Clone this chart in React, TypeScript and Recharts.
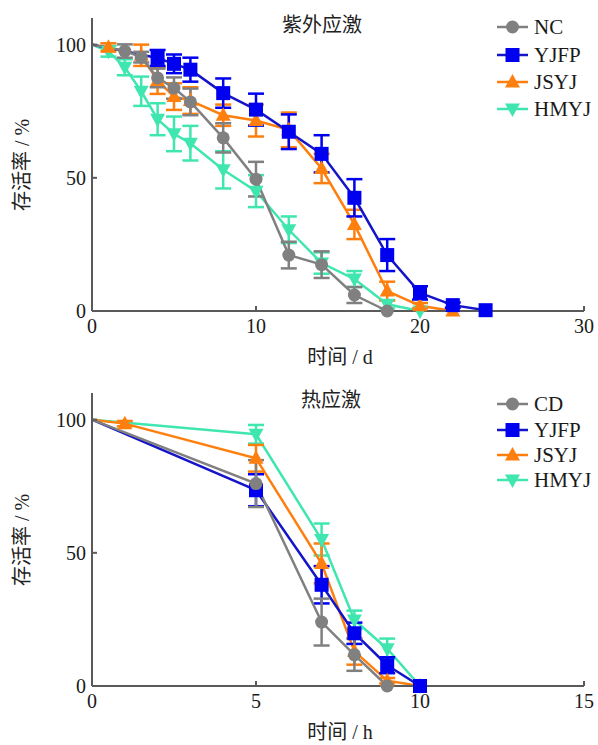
import React from 'react';
import { LineChart, Line, XAxis, YAxis, ErrorBar } from 'recharts';

// 紫外应激 (UV stress), x in days
const uvNCDays = [0, 2, 3, 4, 5, 6, 8, 10, 12, 14, 16, 18];
const uvNC = [100, 97.6, 95.3, 87.5, 83.7, 78.5, 65, 49.5, 21, 17.4, 6, 0];
const uvNCErr = [null, 2.5, 2, 3.5, 4, 5, 5.5, 6.5, 5, 5, 3, null];

const uvYJFPDays = [0, 4, 5, 6, 8, 10, 12, 14, 16, 18, 20, 22, 24];
const uvYJFP = [100, 95, 92.8, 90.6, 81.8, 75.6, 67.3, 59, 42.5, 21, 6.8, 2.2, 0.3];
const uvYJFPErr = [null, 3, 3.5, 4.5, 5.5, 6, 6.5, 7, 7, 6, 2.5, 1, null];

const uvJSYJDays = [0, 1, 3, 4, 5, 6, 8, 10, 12, 14, 16, 18, 20, 22];
const uvJSYJ = [100, 99, 96, 86.5, 80.5, 79, 73.5, 71.5, 68, 53.5, 32.5, 7.5, 2, 0];
const uvJSYJErr = [null, 1.5, 4, 5, 5, 5, 4, 6, 6.5, 5.5, 5.5, 3.5, 1, null];

const uvHMYJDays = [0, 1, 2, 3, 4, 5, 6, 8, 10, 12, 14, 16, 18, 20];
const uvHMYJ = [100, 97.5, 91.5, 82.5, 72, 66.5, 63, 53, 45, 30.5, 18, 12, 2.5, 0];
const uvHMYJErr = [null, 2, 3, 5.5, 6, 6.5, 6.5, 7, 6, 5, 4, 3, 1.5, null];

// 热应激 (heat stress), x in hours
const heatCDHours = [0, 5, 7, 8, 9];
const heatCD = [100, 76, 24, 11.7, 0];
const heatCDErr = [null, 8.8, 8.8, 6, null];

const heatYJFPHours = [0, 5, 7, 8, 9, 10];
const heatYJFP = [100, 73.5, 38, 19.8, 7.8, 0];
const heatYJFPErr = [null, 6, 7, 4, 3, null];

const heatJSYJHours = [0, 1, 5, 7, 8, 9, 10];
const heatJSYJ = [100, 98.5, 85.5, 46, 13, 2, 0];
const heatJSYJErr = [null, 1, 5, 7.5, 5, 1, null];

const heatHMYJHours = [0, 5, 7, 8, 9, 10];
const heatHMYJ = [100, 94.5, 55, 24.8, 14, 0];
const heatHMYJErr = [null, 3.5, 6, 3.5, 3.8, null];

const uvTicks = [0, 10, 20, 30];
const heatTicks = [0, 5, 10, 15];
const yTicks = [0, 50, 100];

const GRAY = '#808080';
const BLUE = '#0000f0';
const BLUE_LINE = '#1414c8';
const ORANGE = '#ff7f0e';
const TEAL = '#40e6b0';
const AXIS = '#5a5a5a';
const SERIF = "'Liberation Serif', 'Times New Roman', 'DejaVu Serif', 'Noto Sans CJK SC', serif";

type Shape = 'circle' | 'square' | 'up' | 'down';

const toRows = (xs: number[], ys: number[], errs: (number | null)[]) =>
  xs.map((x, i) => ({ x, y: ys[i], err: errs[i] }));

const Marker = ({ shape, cx, cy, color }: { shape: Shape; cx: number; cy: number; color: string }) => {
  if (shape === 'circle') return <circle cx={cx} cy={cy} r={6.5} fill={color} />;
  if (shape === 'square') return <rect x={cx - 7} y={cy - 7} width={14} height={14} fill={color} />;
  if (shape === 'up')
    return <polygon points={`${cx},${cy - 8} ${cx + 7.5},${cy + 5.5} ${cx - 7.5},${cy + 5.5}`} fill={color} />;
  return <polygon points={`${cx},${cy + 8} ${cx + 7.5},${cy - 5.5} ${cx - 7.5},${cy - 5.5}`} fill={color} />;
};

interface Series {
  name: string;
  rows: { x: number; y: number; err: number | null }[];
  color: string;
  lineColor: string;
  shape: Shape;
}

const uvSeries: Series[] = [
  { name: 'NC', rows: toRows(uvNCDays, uvNC, uvNCErr), color: GRAY, lineColor: GRAY, shape: 'circle' },
  { name: 'YJFP', rows: toRows(uvYJFPDays, uvYJFP, uvYJFPErr), color: BLUE, lineColor: BLUE_LINE, shape: 'square' },
  { name: 'JSYJ', rows: toRows(uvJSYJDays, uvJSYJ, uvJSYJErr), color: ORANGE, lineColor: ORANGE, shape: 'up' },
  { name: 'HMYJ', rows: toRows(uvHMYJDays, uvHMYJ, uvHMYJErr), color: TEAL, lineColor: TEAL, shape: 'down' },
];

const heatSeries: Series[] = [
  { name: 'CD', rows: toRows(heatCDHours, heatCD, heatCDErr), color: GRAY, lineColor: GRAY, shape: 'circle' },
  { name: 'YJFP', rows: toRows(heatYJFPHours, heatYJFP, heatYJFPErr), color: BLUE, lineColor: BLUE_LINE, shape: 'square' },
  { name: 'JSYJ', rows: toRows(heatJSYJHours, heatJSYJ, heatJSYJErr), color: ORANGE, lineColor: ORANGE, shape: 'up' },
  { name: 'HMYJ', rows: toRows(heatHMYJHours, heatHMYJ, heatHMYJErr), color: TEAL, lineColor: TEAL, shape: 'down' },
];

interface PanelProps {
  top: number;
  height: number;
  series: Series[];
  xMax: number;
  xTicks: number[];
  title: string;
  titleX: number;
  xLabel: string;
  legendY: number[];
}

const textStyle = { fontFamily: SERIF };

const Panel = ({ top, height, series, xMax, xTicks, title, titleX, xLabel, legendY }: PanelProps) => {
  // draw back-to-front so gray sits on top like the original
  const drawOrder = [...series].reverse();
  const tickStyle = { fontSize: 20, fill: '#1a1a1a', fontFamily: SERIF, style: textStyle };
  return (
    <div style={{ position: 'absolute', left: 0, top, width: 598, height, fontFamily: SERIF }}>
      <LineChart width={598} height={height} margin={{ top: 18, right: 14, left: 0, bottom: height - 18 - 293 - 30 }}>
        <XAxis
          type="number"
          dataKey="x"
          domain={[0, xMax]}
          ticks={xTicks}
          height={30}
          tickSize={-5}
          tickMargin={13}
          axisLine={{ stroke: AXIS, strokeWidth: 2 }}
          tickLine={{ stroke: AXIS, strokeWidth: 2 }}
          tick={tickStyle}
          allowDuplicatedCategory={false}
        />
        <YAxis
          type="number"
          domain={[0, 110]}
          ticks={yTicks}
          width={92}
          tickSize={-5}
          tickMargin={11}
          axisLine={{ stroke: AXIS, strokeWidth: 2 }}
          tickLine={{ stroke: AXIS, strokeWidth: 2 }}
          tick={tickStyle}
        />
        {drawOrder.map((s) => (
          <Line
            key={s.name}
            data={s.rows}
            dataKey="y"
            type="linear"
            stroke={s.lineColor}
            strokeWidth={2.5}
            isAnimationActive={false}
            dot={(p: any) =>
              p.index === 0 ? (
                <g key={`${s.name}-${p.index}`} />
              ) : (
                <Marker key={`${s.name}-${p.index}`} shape={s.shape} cx={p.cx} cy={p.cy} color={s.color} />
              )
            }
            activeDot={false}
          >
            <ErrorBar dataKey="err" direction="y" width={8} strokeWidth={2.5} stroke={s.color} />
          </Line>
        ))}
      </LineChart>
      <svg width={598} height={height} style={{ position: 'absolute', left: 0, top: 0, pointerEvents: 'none', ...textStyle }}>
        <text x={titleX} y={25} textAnchor="middle" dominantBaseline="central" fontSize={20} fill="#222" style={textStyle}>
          {title}
        </text>
        <text x={340} y={357} textAnchor="middle" dominantBaseline="central" fontSize={20} fill="#222" style={textStyle}>
          {xLabel}
        </text>
        <text
          x={22}
          y={165}
          transform="rotate(-90 22 165)"
          textAnchor="middle"
          dominantBaseline="central"
          fontSize={20}
          fill="#222"
          style={textStyle}
        >
          存活率 / %
        </text>
        {series.map((s, i) => (
          <g key={s.name}>
            <line x1={497} x2={528} y1={legendY[i]} y2={legendY[i]} stroke={s.lineColor} strokeWidth={2.5} />
            <Marker shape={s.shape} cx={512.5} cy={legendY[i]} color={s.color} />
            <text x={534} y={legendY[i]} dominantBaseline="central" fontSize={21} fill="#1a1a1a" style={textStyle}>
              {s.name}
            </text>
          </g>
        ))}
      </svg>
    </div>
  );
};

export default function App() {
  return (
    <div style={{ position: 'absolute', left: 0, top: 0, width: 598, height: 745, background: '#fff' }}>
      <Panel
        top={0}
        height={375}
        series={uvSeries}
        xMax={30}
        xTicks={uvTicks}
        title="紫外应激"
        titleX={322}
        xLabel="时间 / d"
        legendY={[27, 55, 82, 109]}
      />
      <Panel
        top={375}
        height={370}
        series={heatSeries}
        xMax={15}
        xTicks={heatTicks}
        title="热应激"
        titleX={331}
        xLabel="时间 / h"
        legendY={[29, 55, 80, 105]}
      />
    </div>
  );
}
